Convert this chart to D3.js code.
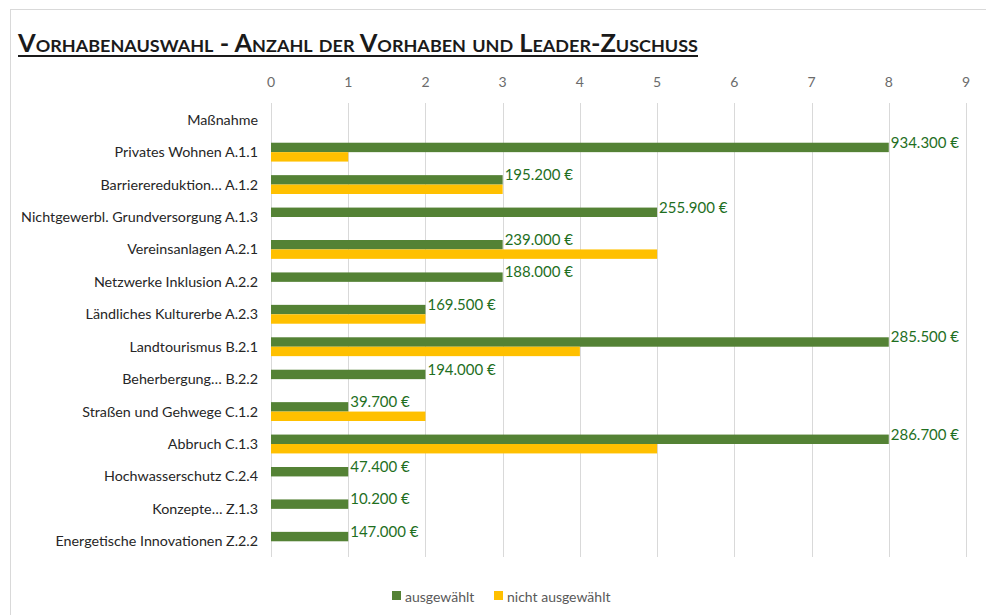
<!DOCTYPE html>
<html lang="de">
<head>
<meta charset="UTF-8">
<title>Vorhabenauswahl</title>
<style>
    body { margin: 0; padding: 0; background: #ffffff; overflow: hidden; }
    svg { display: block; font-family: 'Lato', 'Open Sans', sans-serif; }
    .grid line { stroke: #d9d9d9; stroke-width: 1px; }
    .tick-label { fill: #6b6b6b; font-size: 14px; }
    .cat-label { fill: #262626; font-size: 14.3px; }
    .value-label { fill: #1f6f1f; font-size: 15px; }
    .legend text { fill: #595959; font-size: 14px; }
</style>
</head>
<body>
<div id="chart"></div>
<script src="https://d3js.org/d3.v7.min.js"></script>
<script>
    const width = 986;
    const height = 615;

    const categories = [
        "Maßnahme",
        "Privates Wohnen A.1.1",
        "Barrierereduktion… A.1.2",
        "Nichtgewerbl. Grundversorgung A.1.3",
        "Vereinsanlagen A.2.1",
        "Netzwerke Inklusion A.2.2",
        "Ländliches Kulturerbe A.2.3",
        "Landtourismus B.2.1",
        "Beherbergung… B.2.2",
        "Straßen und Gehwege C.1.2",
        "Abbruch C.1.3",
        "Hochwasserschutz C.2.4",
        "Konzepte… Z.1.3",
        "Energetische Innovationen Z.2.2"
    ];
    const ausgewaehlt =       [null, 8, 3, 5, 3, 3, 2, 8, 2, 1, 8, 1, 1, 1];
    const nichtAusgewaehlt =  [null, 1, 3, 0, 5, 0, 2, 4, 0, 2, 5, 0, 0, 0];
    const zuschuss = [null, "934.300 €", "195.200 €", "255.900 €", "239.000 €", "188.000 €",
        "169.500 €", "285.500 €", "194.000 €", "39.700 €", "286.700 €", "47.400 €",
        "10.200 €", "147.000 €"];
    const ticks = [0, 1, 2, 3, 4, 5, 6, 7, 8, 9];
    const seriesNames = ["ausgewählt", "nicht ausgewählt"];
    const colors = ["#548235", "#ffc000"];

    const svg = d3.select('#chart').append('svg')
        .attr('width', width)
        .attr('height', height);

    // chart area frame (only left and top edges visible)
    svg.append('line').attr('x1', 10.5).attr('x2', 10.5).attr('y1', 9).attr('y2', height)
        .attr('stroke', '#d9d9d9');
    svg.append('line').attr('x1', 10).attr('x2', width).attr('y1', 9.5).attr('y2', 9.5)
        .attr('stroke', '#d9d9d9');

    // title
    svg.append('text')
        .attr('x', 18)
        .attr('y', 52)
        .attr('font-size', 24)
        .attr('font-weight', 'bold')
        .attr('fill', '#1a1a1a')
        .style('font-variant', 'small-caps')
        .attr('textLength', 680)
        .attr('lengthAdjust', 'spacingAndGlyphs')
        .text('Vorhabenauswahl - Anzahl der Vorhaben und Leader-Zuschuss');
    svg.append('line').attr('x1', 18).attr('x2', 698).attr('y1', 56).attr('y2', 56)
        .attr('stroke', '#1a1a1a').attr('stroke-width', 2);

    const x = d3.scaleLinear().domain([0, 9]).range([271, 966]);
    const y = d3.scaleBand().domain(categories).range([103.5, 557.5]);
    const inner = d3.scaleBand().domain(seriesNames)
        .range([0, y.bandwidth()]).paddingInner(0).paddingOuter(0.72);

    // gridlines
    svg.append('g').attr('class', 'grid')
        .selectAll('line').data(ticks).enter().append('line')
        .attr('x1', d => Math.round(x(d)) + 0.5)
        .attr('x2', d => Math.round(x(d)) + 0.5)
        .attr('y1', 103)
        .attr('y2', 557);

    // tick labels on top
    svg.append('g').selectAll('text').data(ticks).enter().append('text')
        .attr('class', 'tick-label')
        .attr('x', d => x(d))
        .attr('y', 87)
        .attr('text-anchor', 'middle')
        .text(d => d);

    // category labels
    svg.append('g').selectAll('text').data(categories).enter().append('text')
        .attr('class', 'cat-label')
        .attr('x', 258)
        .attr('y', d => y(d) + y.bandwidth() / 2 + 5)
        .attr('text-anchor', 'end')
        .text(d => d);

    const rows = categories.map((c, i) => ({
        cat: c, a: ausgewaehlt[i], label: zuschuss[i]
    })).filter(d => d.a !== null);

    // bars
    [ausgewaehlt, nichtAusgewaehlt].forEach((series, si) => {
        svg.append('g').selectAll('rect')
            .data(categories.map((c, i) => ({ cat: c, v: series[i] })).filter(d => d.v))
            .enter().append('rect')
            .attr('x', x(0))
            .attr('y', d => y(d.cat) + inner(seriesNames[si]))
            .attr('width', d => x(d.v) - x(0))
            .attr('height', inner.bandwidth())
            .attr('fill', colors[si]);
    });

    // value labels
    svg.append('g').selectAll('text').data(rows).enter().append('text')
        .attr('class', 'value-label')
        .attr('x', d => x(d.a) + 2)
        .attr('y', d => y(d.cat) + inner(seriesNames[0]) + 5)
        .text(d => d.label);

    // legend
    const legend = svg.append('g').attr('class', 'legend');
    const legendX = [392, 494];
    seriesNames.forEach((name, i) => {
        legend.append('rect')
            .attr('x', legendX[i]).attr('y', 591)
            .attr('width', 9).attr('height', 9)
            .attr('fill', colors[i]);
        legend.append('text')
            .attr('x', legendX[i] + 13).attr('y', 602)
            .text(name);
    });
</script>
</body>
</html>
